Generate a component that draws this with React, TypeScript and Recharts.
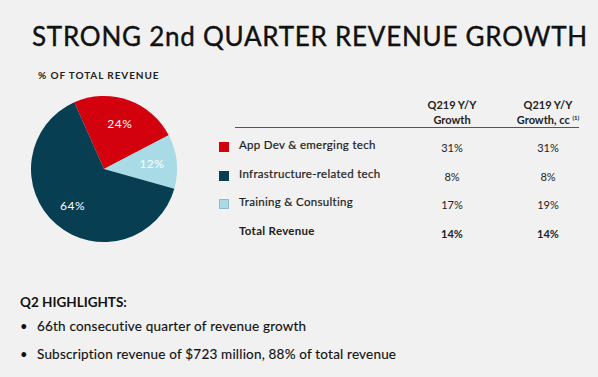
import React from 'react';
import { PieChart, Pie, Cell } from 'recharts';

const SEGMENTS = ['App Dev & emerging tech', 'Infrastructure-related tech', 'Training & Consulting'];
const SHARE = [24, 64, 12];
const GROWTH = ['31%', '8%', '17%'];
const GROWTH_CC = ['31%', '8%', '19%'];
const TOTAL_ROW = { name: 'Total Revenue', growth: '14%', growthCc: '14%' };
const HIGHLIGHTS = [
  '66th consecutive quarter of revenue growth',
  'Subscription revenue of $723 million, 88% of total revenue',
];

const COLORS = ['#d3000d', '#073e52', '#a8dbe6'];
// pie order goes clockwise from the red slice: red, light blue, dark
const PIE_ORDER = [0, 2, 1];

const FONT = 'Lato, "Open Sans", sans-serif';
const RAD = Math.PI / 180;

const pieData = PIE_ORDER.map(i => ({ name: SEGMENTS[i], value: SHARE[i], color: COLORS[i] }));

const renderLabel = (props: any) => {
  const { cx, cy, midAngle, outerRadius, value } = props;
  const r = outerRadius * 0.66;
  const x = cx + r * Math.cos(-midAngle * RAD);
  const y = cy + r * Math.sin(-midAngle * RAD);
  return (
    <text x={x} y={y} fill="#ffffff" textAnchor="middle" dominantBaseline="central"
      fontFamily={FONT} fontSize={12} letterSpacing={0.5}>
      {value}%
    </text>
  );
};

const App: React.FC = () => {
  const rowTop = [147, 176, 204, 233];
  return (
    <div style={{ position: 'fixed', left: 0, top: 0, width: 598, height: 377, background: '#f1f1f1', overflow: 'hidden', fontFamily: FONT, color: '#1a1a1a' }}>
      {/* Title */}
      <div style={{ position: 'absolute', left: 32, top: 20, fontSize: 26, letterSpacing: 0.75, whiteSpace: 'nowrap', color: '#111', WebkitTextStroke: '0.4px #111' }}>
        STRONG 2nd QUARTER REVENUE GROWTH
      </div>
      <div style={{ position: 'absolute', left: 38, top: 69, fontSize: 10, fontWeight: 700, letterSpacing: 0.9, color: '#222' }}>
        % OF TOTAL REVENUE
      </div>

      {/* Pie */}
      <div style={{ position: 'absolute', left: 0, top: 80 }}>
        <PieChart width={210} height={180} margin={{ top: 0, right: 0, bottom: 0, left: 0 }}>
          <Pie
            data={pieData}
            dataKey="value"
            cx={104}
            cy={89}
            outerRadius={73}
            startAngle={114}
            endAngle={-246}
            stroke="none"
            label={renderLabel}
            labelLine={false}
            isAnimationActive={false}
          >
            {pieData.map((entry, index) => (
              <Cell key={`cell-${index}`} fill={entry.color} />
            ))}
          </Pie>
        </PieChart>
      </div>

      {/* Table header */}
      <div style={{ position: 'absolute', left: 412, top: 97, width: 80, textAlign: 'center', fontSize: 11, fontWeight: 700, lineHeight: '15px', color: '#222' }}>
        Q219 Y/Y<br />Growth
      </div>
      <div style={{ position: 'absolute', left: 503, top: 97, width: 90, textAlign: 'center', fontSize: 11, fontWeight: 700, lineHeight: '15px', color: '#222' }}>
        Q219 Y/Y<br />Growth, cc <span style={{ fontSize: 6, position: 'relative', top: -4 }}>(1)</span>
      </div>
      <div style={{ position: 'absolute', left: 235, top: 127, width: 344, height: 1, background: '#555' }} />

      {/* Table rows */}
      {SEGMENTS.map((name, i) => (
        <React.Fragment key={name}>
          <div style={{ position: 'absolute', left: 219, top: rowTop[i] - 5, width: 10, height: 10, background: COLORS[i], border: i === 2 ? '1px solid #8fbcc8' : 'none', boxSizing: 'border-box' }} />
          <div style={{ position: 'absolute', left: 239, top: rowTop[i] - 9, fontSize: 11.5, letterSpacing: 0.3, whiteSpace: 'nowrap', color: '#222', WebkitTextStroke: '0.2px #222' }}>{name}</div>
          <div style={{ position: 'absolute', left: 412, top: rowTop[i] - 6, width: 80, textAlign: 'center', fontSize: 11, color: '#222' }}>{GROWTH[i]}</div>
          <div style={{ position: 'absolute', left: 503, top: rowTop[i] - 6, width: 90, textAlign: 'center', fontSize: 11, color: '#222' }}>{GROWTH_CC[i]}</div>
        </React.Fragment>
      ))}
      <div style={{ position: 'absolute', left: 239, top: rowTop[3] - 9, fontSize: 11.5, fontWeight: 700, letterSpacing: 0.3, color: '#222' }}>{TOTAL_ROW.name}</div>
      <div style={{ position: 'absolute', left: 412, top: rowTop[3] - 6, width: 80, textAlign: 'center', fontSize: 11, fontWeight: 700, color: '#222' }}>{TOTAL_ROW.growth}</div>
      <div style={{ position: 'absolute', left: 503, top: rowTop[3] - 6, width: 90, textAlign: 'center', fontSize: 11, fontWeight: 700, color: '#222' }}>{TOTAL_ROW.growthCc}</div>

      {/* Highlights */}
      <div style={{ position: 'absolute', left: 20, top: 294, fontSize: 13.5, fontWeight: 700, color: '#111' }}>Q2 HIGHLIGHTS:</div>
      {HIGHLIGHTS.map((h, i) => (
        <React.Fragment key={h}>
          <div style={{ position: 'absolute', left: 20, top: 318 + i * 28, fontSize: 13, color: '#111' }}>•</div>
          <div style={{ position: 'absolute', left: 37, top: 318 + i * 28, fontSize: 13.5, letterSpacing: 0.2, whiteSpace: 'nowrap', color: '#111', WebkitTextStroke: '0.15px #111' }}>{h}</div>
        </React.Fragment>
      ))}
    </div>
  );
};

export default App;
